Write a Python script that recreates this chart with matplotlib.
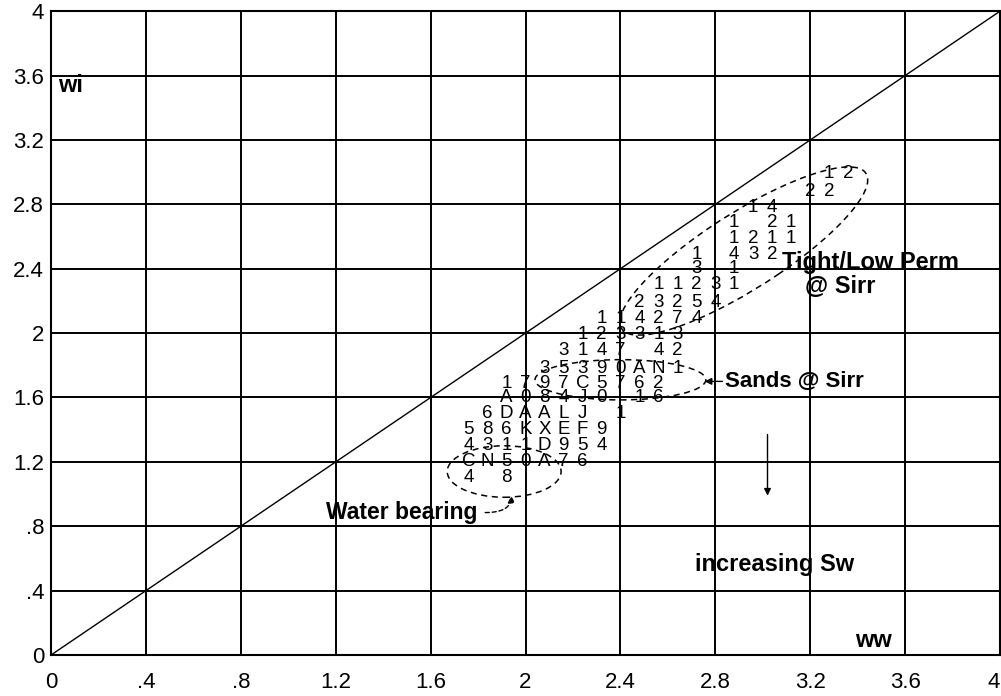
import matplotlib
matplotlib.use("Agg")
import matplotlib.pyplot as plt
from matplotlib.patches import Ellipse

plt.rcParams['font.family'] = ['Liberation Sans', 'DejaVu Sans']

# ---- data ----
tick_values = [0, 0.4, 0.8, 1.2, 1.6, 2.0, 2.4, 2.8, 3.2, 3.6, 4.0]
tick_labels = ["0", ".4", ".8", "1.2", "1.6", "2", "2.4", "2.8", "3.2", "3.6", "4"]

point_labels = [
    "1", "2",
    "2", "2",
    "1", "4",
    "1", "2", "1",
    "1", "2", "1", "1",
    "1", "4", "3", "2",
    "3", "1",
    "1", "1", "2", "3", "1",
    "2", "3", "2", "5", "4",
    "1", "1", "4", "2", "7", "4",
    "1", "2", "3", "3", "1", "3",
    "3", "1", "4", "7", "4", "2",
    "3", "5", "3", "9", "0", "A", "N", "1",
    "1", "7", "9", "7", "C", "5", "7", "6", "2",
    "A", "0", "8", "4", "J", "0", "1", "6",
    "6", "D", "A", "A", "L", "J", "1",
    "5", "8", "6", "K", "X", "E", "F", "9",
    "4", "3", "1", "1", "D", "9", "5", "4",
    "C", "N", "5", "0", "A", "7", "6",
    "4", "8",
]
point_x = [
    3.28, 3.36,
    3.20, 3.28,
    2.96, 3.04,
    2.88, 3.04, 3.12,
    2.88, 2.96, 3.04, 3.12,
    2.72, 2.88, 2.96, 3.04,
    2.72, 2.88,
    2.56, 2.64, 2.72, 2.80, 2.88,
    2.48, 2.56, 2.64, 2.72, 2.80,
    2.32, 2.40, 2.48, 2.56, 2.64, 2.72,
    2.24, 2.32, 2.40, 2.48, 2.56, 2.64,
    2.16, 2.24, 2.32, 2.40, 2.56, 2.64,
    2.08, 2.16, 2.24, 2.32, 2.40, 2.48, 2.56, 2.64,
    1.92, 2.00, 2.08, 2.16, 2.24, 2.32, 2.40, 2.48, 2.56,
    1.92, 2.00, 2.08, 2.16, 2.24, 2.32, 2.48, 2.56,
    1.84, 1.92, 2.00, 2.08, 2.16, 2.24, 2.40,
    1.76, 1.84, 1.92, 2.00, 2.08, 2.16, 2.24, 2.32,
    1.76, 1.84, 1.92, 2.00, 2.08, 2.16, 2.24, 2.32,
    1.76, 1.84, 1.92, 2.00, 2.08, 2.16, 2.24,
    1.76, 1.92,
]
point_y = [
    2.99, 2.99,
    2.88, 2.88,
    2.78, 2.78,
    2.69, 2.69, 2.69,
    2.59, 2.59, 2.59, 2.59,
    2.49, 2.49, 2.49, 2.49,
    2.40, 2.40,
    2.30, 2.30, 2.30, 2.30, 2.30,
    2.19, 2.19, 2.19, 2.19, 2.19,
    2.09, 2.09, 2.09, 2.09, 2.09, 2.09,
    1.99, 1.99, 1.99, 1.99, 1.99, 1.99,
    1.89, 1.89, 1.89, 1.89, 1.89, 1.89,
    1.78, 1.78, 1.78, 1.78, 1.78, 1.78, 1.78, 1.78,
    1.69, 1.69, 1.69, 1.69, 1.69, 1.69, 1.69, 1.69, 1.69,
    1.60, 1.60, 1.60, 1.60, 1.60, 1.60, 1.60, 1.60,
    1.50, 1.50, 1.50, 1.50, 1.50, 1.50, 1.50,
    1.40, 1.40, 1.40, 1.40, 1.40, 1.40, 1.40, 1.40,
    1.30, 1.30, 1.30, 1.30, 1.30, 1.30, 1.30, 1.30,
    1.20, 1.20, 1.20, 1.20, 1.20, 1.20, 1.20,
    1.10, 1.10,
]

# ellipses (center x, center y, width, height, angle) in data units
ellipse_cx = [2.92, 2.40, 1.91]
ellipse_cy = [2.51, 1.71, 1.14]
ellipse_w = [1.42, 0.72, 0.48]
ellipse_h = [0.41, 0.25, 0.32]
ellipse_ang = [45, 0, 0]

# ---- figure ----
fig = plt.figure(figsize=(10.01, 6.96), dpi=100)
ax = fig.add_axes([0.051, 0.0589, 0.948, 0.925])
ax.set_xlim(0, 4)
ax.set_ylim(0, 4)
ax.set_xticks(tick_values)
ax.set_yticks(tick_values)
ax.set_xticklabels(tick_labels, fontsize=16)
ax.set_yticklabels(tick_labels, fontsize=16)
xl = ax.get_xticklabels()
xl[-1].set_horizontalalignment('right')
ax.tick_params(length=0)
ax.tick_params(axis='x', pad=12)
ax.tick_params(axis='y', pad=5)
ax.grid(True, color='black', linewidth=1.4)
ax.set_axisbelow(True)
for s in ax.spines.values():
    s.set_linewidth(1.5)
    s.set_color('black')

# diagonal
ax.plot([0, 4], [0, 4], color='black', linewidth=1.0)

# character points
for lab, x, y in zip(point_labels, point_x, point_y):
    ax.text(x, y, lab, fontsize=13.5, ha='center', va='center', color='black')

# ellipses
for cx, cy, w, h, a in zip(ellipse_cx, ellipse_cy, ellipse_w, ellipse_h, ellipse_ang):
    e = Ellipse((cx, cy), w, h, angle=a, fill=False, edgecolor='black',
                linewidth=1.1, linestyle=(0, (4, 3)))
    ax.add_patch(e)

# annotations
ax.text(0.03, 3.54, "wi", fontsize=17, fontweight='bold', ha='left', va='center')
ax.text(3.39, 0.09, "ww", fontsize=17, fontweight='bold', ha='left', va='center')
ax.text(3.08, 2.44, "Tight/Low Perm", fontsize=17, fontweight='bold', ha='left', va='center')
ax.text(3.18, 2.29, "@ Sirr", fontsize=17, fontweight='bold', ha='left', va='center')
ax.text(2.84, 1.70, "Sands @ Sirr", fontsize=16, fontweight='bold', ha='left', va='center')
ax.annotate("", xy=(2.755, 1.70), xytext=(2.83, 1.70),
            arrowprops=dict(arrowstyle='-|>', color='black', lw=1.0,
                            shrinkA=0, shrinkB=0, mutation_scale=10))
ax.text(1.48, 0.885, "Water bearing", fontsize=16.5, fontweight='bold', ha='center', va='center')
ax.annotate("", xy=(1.94, 0.99), xytext=(1.83, 0.885),
            arrowprops=dict(arrowstyle='-|>', color='black', lw=1.0,
                            linestyle=(0, (3, 2)), shrinkA=0, shrinkB=0,
                            mutation_scale=10,
                            connectionstyle="angle3,angleA=0,angleB=90"))
ax.text(3.05, 0.56, "increasing Sw", fontsize=17, fontweight='bold', ha='center', va='center')
ax.annotate("", xy=(3.02, 0.99), xytext=(3.02, 1.37),
            arrowprops=dict(arrowstyle='-|>', color='black', lw=1.0,
                            shrinkA=0, shrinkB=0, mutation_scale=10))

fig.savefig("out.png", dpi=100)
